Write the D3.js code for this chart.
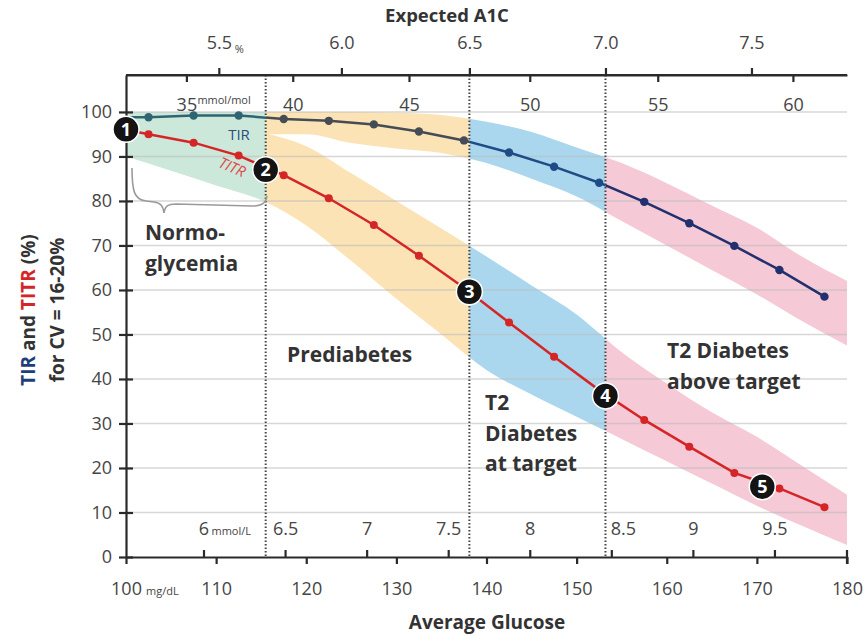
<!DOCTYPE html>
<html>
<head>
<meta charset="utf-8">
<script src="https://cdn.jsdelivr.net/npm/d3@7"></script>
<style>
  html, body { margin: 0; padding: 0; background: #fff; }
  svg { display: block; font-family: "Open Sans", "Noto Sans", sans-serif; }
</style>
</head>
<body>
<svg id="chart" width="868" height="636"></svg>
<script>
// ---------------- DATA ----------------
// Average glucose (mg/dL) at which the curves are sampled
const glucose = [100, 102.5, 107.5, 112.5, 117.5, 122.5, 127.5, 132.5, 137.5, 142.5, 147.5, 152.5, 157.5, 162.5, 167.5, 172.5, 177.5];
// Time in range (%)
const tir  = [98.8, 98.8, 99.2, 99.2, 98.4, 98.0, 97.2, 95.6, 93.6, 90.9, 87.7, 84.1, 79.8, 75.0, 69.9, 64.5, 58.5];
// Time in tight range (%)
const titr = [96.0, 95.0, 93.1, 90.2, 85.8, 80.6, 74.6, 67.7, 60.5, 52.7, 45.0, 37.5, 30.8, 24.8, 18.9, 15.4, 11.2];

// Bands for CV = 16-20%
const bandGlucose = [100, 105, 110, 115, 120, 125, 130, 135, 140, 145, 150, 155, 160, 165, 170, 175, 180];
const tirHigh  = [100, 100, 100, 100, 100, 100, 99.8, 99.3, 97.8, 95.5, 92, 88.5, 84, 79, 74, 67.5, 62];
const tirLow   = [94, 94, 94.5, 95, 95, 93, 91.8, 90.8, 88.5, 85, 81, 75.5, 70, 64.5, 59, 53, 47.5];
const titrHigh = [100, 99, 98, 95.5, 92.3, 86.2, 80, 73.8, 67.5, 61, 54.5, 46, 39, 32.5, 27, 20.5, 14];
const titrLow  = [90, 86.8, 83.5, 80.2, 74.5, 66.5, 58, 50, 42, 36.5, 31.5, 26.5, 21.5, 16.5, 11.5, 7, 2.7];

// Glycemic categories (glucose boundaries, mg/dL)
const regionNames  = ["Normoglycemia", "Prediabetes", "T2 Diabetes at target", "T2 Diabetes above target"];
const regionStart  = [100, 115.5, 138.1, 153.2];
const regionEnd    = [115.5, 138.1, 153.2, 180];
const regionColors = ["#cce8da", "#fbe3b6", "#aad7ed", "#f5c9d6"];
const tirRegionColors = ["#2f6472", "#454c55", "#1f4c86", "#22306f"];
const boundaries = [115.5, 138.1, 153.2];

// Numbered milestones
const milestoneLabels  = ["1", "2", "3", "4", "5"];
const milestoneGlucose = [100, 115.5, 138.1, 153.2, 170.6];
const milestoneValue   = [96.1, 87.0, 59.6, 36.2, 15.8];

// Axis ticks
const yTicks = [0, 10, 20, 30, 40, 50, 60, 70, 80, 90, 100];
const mgdlTicks = [100, 110, 120, 130, 140, 150, 160, 170, 180];
const mmolLTicks = [6, 6.5, 7, 7.5, 8, 8.5, 9, 9.5];
const mmolFactor = 18.1;
const a1cLabels  = ["5.5", "6.0", "6.5", "7.0", "7.5"];
const a1cGlucose = [110.3, 123.9, 138.1, 153.2, 169.4];
const mmolMolLabels  = ["35", "40", "45", "50", "55", "60"];
const mmolMolGlucose = [106.7, 118.5, 131.4, 144.8, 159.0, 174.0];

// ---------------- CHART ----------------
(function () {
const svg = d3.select("#chart");
const x = d3.scaleLinear().domain([100, 180]).range([126, 847]);
const y = d3.scaleLinear().domain([0, 108.3]).range([557, 75]);
const yTop = y(108.3), yBottom = y(0);
const tickColor = "#454545";
const axisColor = "#2a2a2a";

svg.append("rect").attr("width", 868).attr("height", 636).attr("fill", "#fff");

const defs = svg.append("defs");
regionStart.forEach((s, i) => {
  defs.append("clipPath").attr("id", "clip" + i)
    .append("rect")
    .attr("x", x(s)).attr("y", yTop)
    .attr("width", x(regionEnd[i]) - x(s))
    .attr("height", yBottom - yTop);
});

// Bands
const bandArea = (hi, lo) => d3.area()
  .x((d, i) => x(bandGlucose[i]))
  .y0((d, i) => y(lo[i]))
  .y1((d, i) => y(hi[i]))
  .curve(d3.curveMonotoneX)(bandGlucose);

regionStart.forEach((s, i) => {
  const g = svg.append("g").attr("clip-path", `url(#clip${i})`);
  g.append("path").attr("d", bandArea(tirHigh, tirLow)).attr("fill", regionColors[i]);
  g.append("path").attr("d", bandArea(titrHigh, titrLow)).attr("fill", regionColors[i]);
});

// Gridlines
svg.append("g").selectAll("line").data(yTicks.filter(v => v > 0)).join("line")
  .attr("x1", x(100)).attr("x2", x(180))
  .attr("y1", d => y(d)).attr("y2", d => y(d))
  .attr("stroke", "#bdbdbd").attr("stroke-opacity", 0.6).attr("stroke-width", 1.5);

// Dotted boundaries
svg.append("g").selectAll("line").data(boundaries).join("line")
  .attr("x1", d => x(d)).attr("x2", d => x(d))
  .attr("y1", yTop).attr("y2", yBottom)
  .attr("stroke", "#444").attr("stroke-width", 2)
  .attr("stroke-dasharray", "1.5,2");

// Brace under normoglycemia
svg.append("path")
  .attr("d", "M132,168 C132,190 134,200 146,201 L154,202 C161,203 163,206 164,213 C165,206 168,204 176,204 L252,206 C262,206 266,203 267,196")
  .attr("fill", "none").attr("stroke", "#9a9a9a").attr("stroke-width", 1.6);

// Lines
const lineGen = vals => d3.line()
  .x((d, i) => x(glucose[i]))
  .y((d, i) => y(vals[i]))(glucose);

regionStart.forEach((s, i) => {
  const g = svg.append("g").attr("clip-path", `url(#clip${i})`);
  g.append("path").attr("d", lineGen(tir)).attr("fill", "none")
    .attr("stroke", tirRegionColors[i]).attr("stroke-width", 2.5);
  g.selectAll("circle").data(glucose.map((gl, k) => [gl, tir[k]]).filter(d => d[0] > 100)).join("circle")
    .attr("cx", d => x(d[0])).attr("cy", d => y(d[1])).attr("r", 4.2)
    .attr("fill", tirRegionColors[i]);
});

svg.append("path").attr("d", lineGen(titr)).attr("fill", "none")
  .attr("stroke", "#d42626").attr("stroke-width", 2.5);
svg.append("g").selectAll("circle")
  .data(glucose.map((gl, k) => [gl, titr[k]]).filter(d => d[0] > 100)).join("circle")
  .attr("cx", d => x(d[0])).attr("cy", d => y(d[1])).attr("r", 4)
  .attr("fill", "#d42626");

// Axes
const yAxis = svg.append("g").attr("transform", `translate(${x(100)},0)`)
  .call(d3.axisLeft(y).tickValues(yTicks).tickSize(7).tickSizeOuter(0).tickPadding(7));
yAxis.selectAll(".tick line").attr("x1", 7);
const xAxis = svg.append("g").attr("transform", `translate(0,${yBottom})`)
  .call(d3.axisBottom(x).tickValues(mgdlTicks).tickSize(7).tickSizeOuter(0).tickPadding(18));
const mmolAxis = svg.append("g").attr("transform", `translate(0,${yBottom})`)
  .call(d3.axisTop(x).tickValues(mmolLTicks.map(v => v * mmolFactor))
    .tickFormat((d, i) => String(mmolLTicks[i])).tickSize(7).tickPadding(15));
mmolAxis.select(".domain").remove();
mmolAxis.selectAll(".tick text").each(function(d) {
  const near = boundaries.some(b => Math.abs(x(b) - x(d)) < 12);
  if (near) d3.select(this).attr("text-anchor", "start").attr("x", -1);
});
const a1cAxis = svg.append("g").attr("transform", `translate(0,${yTop})`)
  .call(d3.axisTop(x).tickValues(a1cGlucose).tickFormat((d, i) => a1cLabels[i])
    .tickSize(7).tickSizeOuter(0).tickPadding(19));
const mmolMolAxis = svg.append("g").attr("transform", `translate(0,${yTop})`)
  .call(d3.axisBottom(x).tickValues(mmolMolGlucose).tickFormat((d, i) => mmolMolLabels[i])
    .tickSize(7).tickPadding(16));
mmolMolAxis.select(".domain").remove();

[yAxis, xAxis, mmolAxis, a1cAxis, mmolMolAxis].forEach(a => {
  a.select(".domain").attr("stroke", axisColor).attr("stroke-width", 2.2);
  a.selectAll(".tick line").attr("stroke", axisColor).attr("stroke-width", 2.2);
  a.selectAll(".tick text").attr("fill", tickColor).attr("font-size", 18)
    .attr("font-family", '"Open Sans", sans-serif');
});
svg.append("line").attr("x1", x(100)).attr("x2", x(180)).attr("y1", yTop).attr("y2", yTop)
  .attr("stroke", axisColor).attr("stroke-width", 2.2);
svg.append("line").attr("x1", x(180)).attr("x2", x(180)).attr("y1", yBottom - 7).attr("y2", yBottom + 7)
  .attr("stroke", axisColor).attr("stroke-width", 2.2);

// Unit annotations
const unit = (txt, xx, yy) => svg.append("text").attr("x", xx).attr("y", yy)
  .attr("font-size", 11).attr("fill", tickColor).text(txt);
unit("mg/dL", x(100) + 20, 595);
unit("mmol/L", x(mmolLTicks[0] * mmolFactor) + 8, 535);
unit("mmol/mol", x(mmolMolGlucose[0]) + 11, 104);
unit("%", x(a1cGlucose[0]) + 16, 53);

// Titles
svg.append("text").attr("x", 447).attr("y", 22).attr("text-anchor", "middle")
  .attr("font-size", 18.5).attr("font-weight", "bold").attr("fill", "#333").text("Expected A1C");
svg.append("text").attr("x", 487).attr("y", 629).attr("text-anchor", "middle")
  .attr("font-size", 19).attr("font-weight", "bold").attr("fill", "#333").text("Average Glucose");

const yt1 = svg.append("text").attr("transform", "translate(35,310) rotate(-90)")
  .attr("text-anchor", "middle").attr("font-size", 19).attr("font-weight", "bold").attr("fill", "#333");
yt1.append("tspan").attr("fill", "#1d3f7a").text("TIR");
yt1.append("tspan").text(" and ");
yt1.append("tspan").attr("fill", "#d42626").text("TITR");
yt1.append("tspan").text(" (%)");
svg.append("text").attr("transform", "translate(64,310) rotate(-90)")
  .attr("text-anchor", "middle").attr("font-size", 19).attr("font-weight", "bold").attr("fill", "#333")
  .text("for CV = 16-20%");

// Series labels
svg.append("text").attr("x", 239).attr("y", 140).attr("text-anchor", "middle")
  .attr("font-size", 15).attr("fill", "#2c4c7e").text("TIR");
svg.append("text").attr("transform", "translate(230,172) rotate(24)").attr("text-anchor", "middle")
  .attr("font-size", 15).attr("font-style", "italic").attr("fill", "#e04848").text("TITR");

// Milestone circles
const ms = svg.append("g").selectAll("g").data(milestoneLabels).join("g")
  .attr("transform", (d, i) => `translate(${x(milestoneGlucose[i])},${y(milestoneValue[i])})`);
ms.append("circle").attr("r", 13).attr("fill", "#141414").attr("stroke", "#fff").attr("stroke-width", 1.5);
ms.append("text").attr("text-anchor", "middle").attr("dy", "0.36em")
  .attr("font-size", 18).attr("font-weight", "bold").attr("fill", "#fff").text(d => d);

// Region labels
const regionText = [
  { lines: ["Normo-", "glycemia"], x: 145, y: 240 },
  { lines: ["Prediabetes"], x: 287, y: 362 },
  { lines: ["T2", "Diabetes", "at target"], x: 485, y: 410 },
  { lines: ["T2 Diabetes", "above target"], x: 667, y: 358 }
];
regionText.forEach(r => {
  const t = svg.append("text").attr("x", r.x).attr("y", r.y)
    .attr("font-size", 21).attr("font-weight", "bold").attr("fill", "#333");
  r.lines.forEach((ln, k) => t.append("tspan").attr("x", r.x).attr("dy", k === 0 ? 0 : 30.5).text(ln));
});
})();
</script>
</body>
</html>
